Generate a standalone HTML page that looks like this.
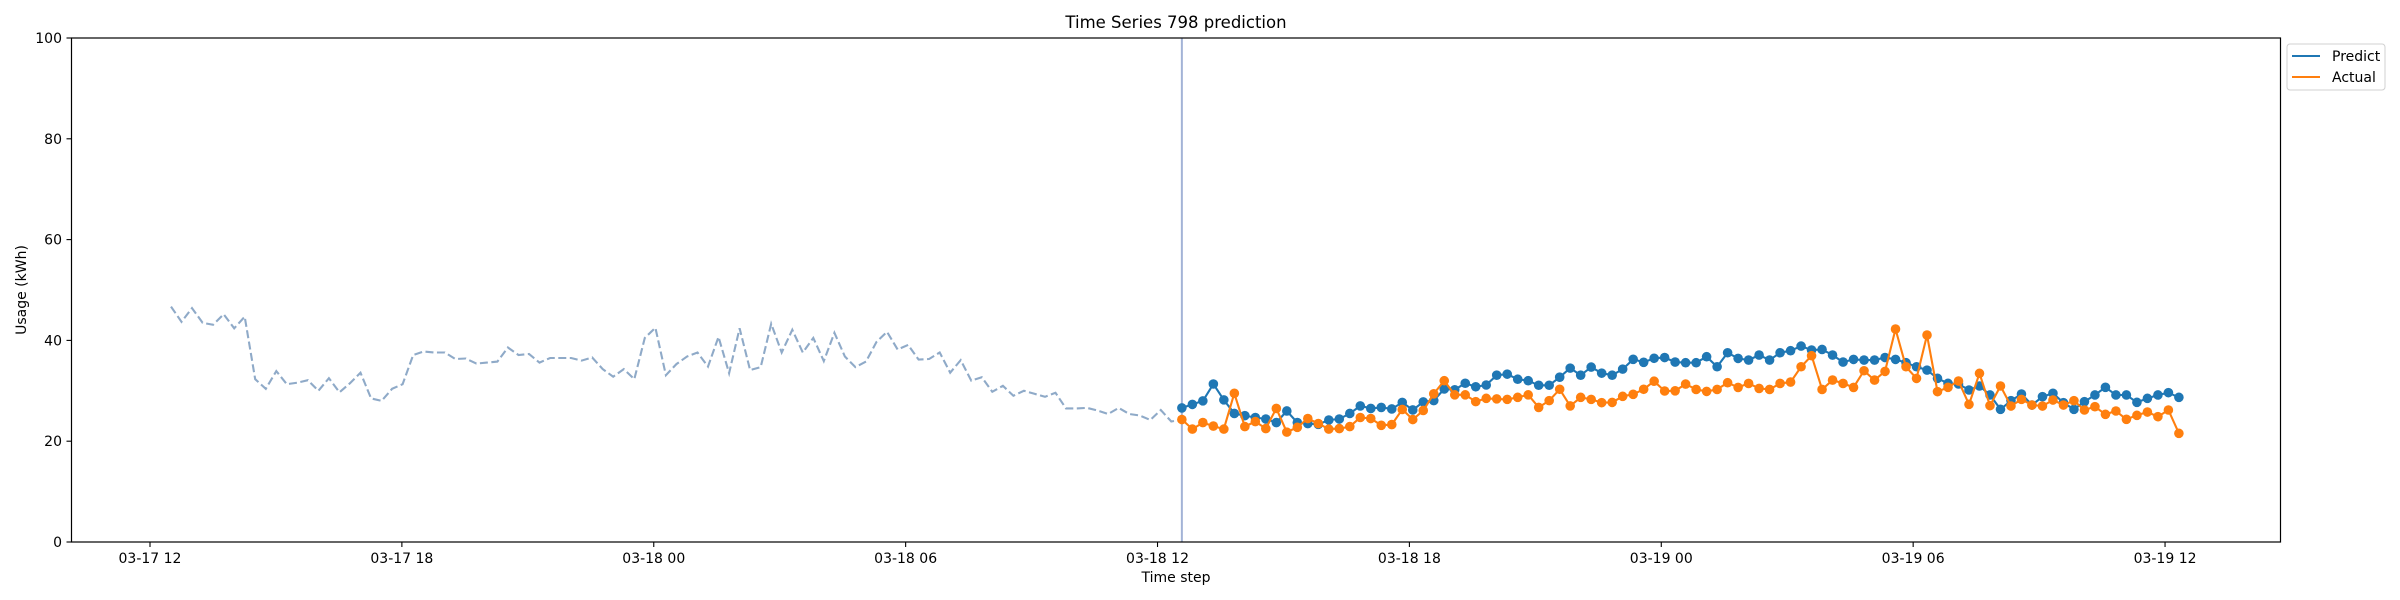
<!DOCTYPE html>
<html><head><meta charset="utf-8"><style>
html,body{margin:0;padding:0;background:#fff;}
svg{display:block;font-family:"DejaVu Sans","Liberation Sans",sans-serif;}
</style></head><body>
<svg id="chart" width="2400" height="600" viewBox="0 0 2400 600" xmlns="http://www.w3.org/2000/svg">
<rect x="0" y="0" width="2400" height="600" fill="#fff"/>
<text x="1176" y="28" font-size="16.5" text-anchor="middle" fill="#000">Time Series 798 prediction</text>
<g id="plot"></g>
<rect x="71.5" y="38" width="2209" height="504" fill="none" stroke="#000" stroke-width="1.2"/>
<text x="1176" y="582" font-size="14" text-anchor="middle" fill="#000">Time step</text>
<text x="26" y="290" font-size="14" text-anchor="middle" fill="#000" transform="rotate(-90 26 290)">Usage (kWh)</text>
<g>
<rect x="2287" y="44" width="98" height="46" rx="3" fill="#fff" stroke="#d0d0d0" stroke-width="1"/>
<line x1="2292" y1="56" x2="2320" y2="56" stroke="#1f77b4" stroke-width="2.1"/>
<text x="2332" y="61" font-size="14" fill="#000">Predict</text>
<line x1="2292" y1="77" x2="2320" y2="77" stroke="#ff7f0e" stroke-width="2.1"/>
<text x="2332" y="82" font-size="14" fill="#000">Actual</text>
</g>
</svg>
<script>
const xTickLabels = ["03-17 12","03-17 18","03-18 00","03-18 06","03-18 12","03-18 18","03-19 00","03-19 06","03-19 12"];
const xTickHours = [0,6,12,18,24,30,36,42,48];
const yTicks = [0,20,40,60,80,100];
const historyStartHour = 0.5;
const predStartHour = 24.58;
const stepHours = 0.25;
const history = [46.7,43.7,46.4,43.5,43.1,45.2,42.4,44.7,32.3,30.4,33.9,31.3,31.6,32.1,30.0,32.5,29.7,31.5,33.6,28.5,28.0,30.4,31.3,37.1,37.8,37.6,37.6,36.3,36.4,35.4,35.6,35.8,38.6,
37.1,37.3,35.6,36.5,36.5,36.5,36.0,36.6,34.3,32.8,34.3,32.3,40.5,42.5,33.1,35.3,36.8,37.6,34.8,40.7,33.5,42.4,34.1,34.7,43.3,37.6,42.1,37.6,40.5,35.9,41.5,36.8,
34.7,35.8,39.7,41.7,38.2,39.1,36.2,36.3,37.6,33.6,36.1,32.0,32.7,29.8,31.0,29.0,30.0,29.4,28.8,29.6,26.5,26.5,26.6,26.1,25.4,26.6,25.4,25.1,24.2,26.2,23.9,24.3];
const predict = [26.6,27.3,28.0,31.35,28.2,25.5,25.07,24.7,24.4,23.7,26.0,23.7,23.5,23.35,24.2,24.4,25.5,27.0,26.5,26.7,26.4,27.7,26.2,27.8,
28.05,30.36,30.2,31.5,30.8,31.15,33.1,33.3,32.3,32.0,31.1,31.1,32.7,34.5,33.1,34.7,33.5,33.1,34.3,36.25,35.65,36.45,36.6,35.7,
35.57,35.57,36.76,34.77,37.55,36.43,36.1,37.09,36.1,37.55,37.95,38.87,38.08,38.2,37.09,35.7,36.23,36.1,36.1,36.6,36.23,35.57,34.77,34.1,
32.47,31.48,31.35,30.16,30.95,29.17,26.32,28.04,29.36,27.18,28.83,29.5,27.64,26.32,27.84,29.17,30.69,29.17,29.17,27.71,28.5,29.17,29.63,28.7];
const actual = [24.3,22.4,23.7,23.0,22.4,29.5,22.9,23.9,22.5,26.5,21.8,22.75,24.5,23.5,22.4,22.5,22.9,24.7,24.5,23.15,23.3,26.3,24.3,26.1,
29.4,32.0,29.2,29.2,27.85,28.5,28.4,28.3,28.7,29.2,26.7,28.05,30.3,27.0,28.7,28.3,27.65,27.7,28.9,29.3,30.3,31.9,29.96,30.0,
31.33,30.27,29.88,30.27,31.6,30.67,31.46,30.47,30.27,31.46,31.73,34.77,36.96,30.27,32.13,31.46,30.67,33.98,32.13,33.85,42.25,34.77,32.46,41.06,
29.83,30.69,31.94,27.31,33.46,27.05,30.95,26.98,28.3,27.18,26.98,28.17,27.18,28.04,26.19,26.85,25.33,25.99,24.34,25.13,25.79,24.87,26.19,21.56];

const NS = "http://www.w3.org/2000/svg";
const X0 = 150, PXH = 41.98;
const Y0 = 542, PXU = 5.04;
function xs(h){ return X0 + h*PXH; }
function ys(v){ return Y0 - v*PXU; }
const plot = document.getElementById('plot');
const svg = document.getElementById('chart');
function mk(tag, attrs, parent){
  const e = document.createElementNS(NS, tag);
  for (const k in attrs) e.setAttribute(k, attrs[k]);
  (parent||plot).appendChild(e);
  return e;
}
xTickHours.forEach((h,i)=>{
  const x = xs(h);
  const t = mk('line',{x1:x,y1:542,x2:x,y2:547,stroke:'#000','stroke-width':1.1},svg);
  
  
  const l = mk('text',{x:x,y:563,'font-size':14,'text-anchor':'middle',fill:'#000'},svg);
  
  
  l.textContent = xTickLabels[i];
});
yTicks.forEach(v=>{
  const y = ys(v);
  const t = mk('line',{x1:66.5,y1:y,x2:71.5,y2:y,stroke:'#000','stroke-width':1.1},svg);
  
  
  const l = mk('text',{x:62,y:y+5,'font-size':14,'text-anchor':'end',fill:'#000'},svg);
  
  
  l.textContent = String(v);
});
const hp = history.map((v,i)=>xs(historyStartHour+i*(predStartHour-historyStartHour)/(history.length-1)).toFixed(1)+','+ys(v).toFixed(1)).join(' ');
const hl = mk('polyline',{points:hp,fill:'none',stroke:'#8faac8','stroke-width':2.1,'stroke-dasharray':'8,3.5'});


const vx = xs(predStartHour);
const vl = mk('line',{x1:vx,y1:38,x2:vx,y2:542,stroke:'#a3b3d6','stroke-width':2});


function series(data,color,name){
  const pts = data.map((v,i)=>xs(predStartHour+i*stepHours).toFixed(1)+','+ys(v).toFixed(1)).join(' ');
  const pl = mk('polyline',{points:pts,fill:'none',stroke:color,'stroke-width':2.1});
  
  
  data.forEach((v,i)=>{
    const c = mk('circle',{cx:xs(predStartHour+i*stepHours),cy:ys(v),r:4.8,fill:color});
    
    
  });
}
series(predict,'#1f77b4','predict');
series(actual,'#ff7f0e','actual');
</script>
</body></html>
